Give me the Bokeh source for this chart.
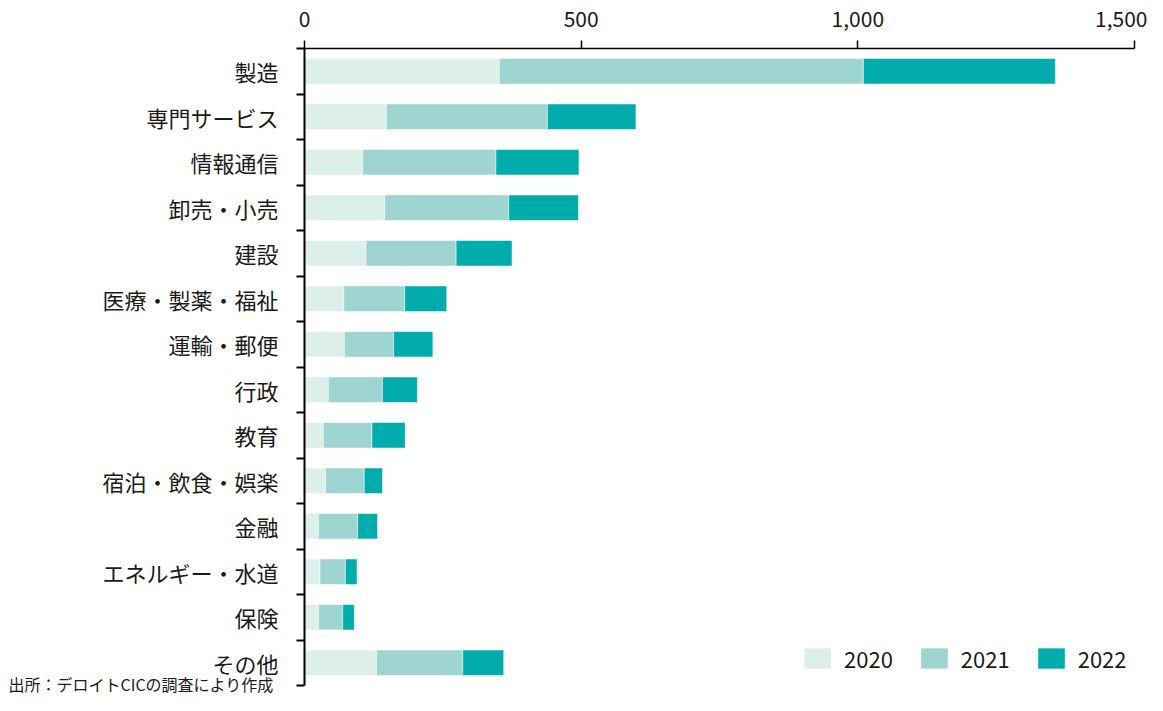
from bokeh.plotting import figure
from bokeh.models import (ColumnDataSource, Range1d, FixedTicker, NumeralTickFormatter,
                          Title, LinearAxis)
from bokeh.embed import file_html
from bokeh.resources import INLINE

categories = ["製造", "専門サービス", "情報通信", "卸売・小売", "建設", "医療・製薬・福祉",
              "運輸・郵便", "行政", "教育", "宿泊・飲食・娯楽", "金融", "エネルギー・水道",
              "保険", "その他"]
v2020 = [352, 148, 105, 145, 111, 71, 72, 43, 34, 38, 25, 28, 25, 130]
v2021 = [658, 291, 241, 224, 163, 110, 89, 98, 88, 70, 71, 46, 44, 156]
v2022 = [347, 160, 150, 126, 101, 76, 71, 63, 60, 33, 36, 21, 21, 74]
years = ["2020", "2021", "2022"]
colors = ["#DDEFEA", "#9FD5D1", "#00ACAC"]
x_ticks = [0, 500, 1000, 1500]
source_note = "出所：デロイトCICの調査により作成"

FONT = "Noto Sans CJK JP"
n = len(categories)
centers = [i + 0.5 for i in range(n)]

src = ColumnDataSource(dict(y=centers, **{"2020": v2020, "2021": v2021, "2022": v2022}))

p = figure(width=1147, height=695, output_backend="svg", toolbar_location=None,
           x_range=Range1d(0, 1500), y_range=Range1d(n, 0),
           x_axis_location=None, y_axis_location=None,
           min_border_left=304, min_border_right=13, min_border_top=48, min_border_bottom=10)
p.outline_line_color = None
p.xgrid.visible = False
p.ygrid.visible = False

p.hbar_stack(years, y="y", height=0.56, source=src, color=colors,
             line_color="white", line_width=0.5,
             legend_label=years)

# top x axis
xa = LinearAxis(ticker=FixedTicker(ticks=x_ticks),
                formatter=NumeralTickFormatter(format="0,0"))
xa.major_label_text_font = FONT
xa.major_label_text_font_size = "21px"
xa.major_label_text_color = "#1a1a1a"
xa.major_tick_out = 8
xa.major_tick_in = 0
xa.minor_tick_out = 0
xa.minor_tick_in = 0
xa.major_label_standoff = 14
xa.axis_line_color = "black"
xa.axis_line_width = 1.5
xa.major_tick_line_width = 1.5
p.add_layout(xa, "above")

# left y axis with labels at centers and ticks at boundaries
ya = LinearAxis(ticker=FixedTicker(ticks=centers, minor_ticks=list(range(n + 1))))
ya.major_label_overrides = {c: lab for c, lab in zip(centers, categories)}
ya.major_label_text_font = FONT
ya.major_label_text_font_size = "22px"
ya.major_label_text_color = "#1a1a1a"
ya.major_tick_out = 0
ya.major_tick_in = 0
ya.minor_tick_out = 8
ya.minor_tick_in = 0
ya.minor_tick_line_width = 2
ya.minor_tick_line_color = "black"
ya.major_label_standoff = 18
ya.axis_line_color = "black"
ya.axis_line_width = 2
p.add_layout(ya, "left")

lg = p.legend[0]
lg.orientation = "horizontal"
lg.location = (496, 11)
lg.glyph_width = 34
lg.glyph_height = 26
lg.label_text_font = FONT
lg.label_text_font_size = "22px"
lg.label_text_color = "#1a1a1a"
lg.label_standoff = 10
lg.spacing = 24
lg.padding = 0
lg.margin = 0
lg.border_line_alpha = 0
lg.background_fill_alpha = 0

note = Title(text=source_note, align="left", vertical_align="top", offset=-296,
             standoff=-28, text_font=FONT, text_font_size="16px",
             text_font_style="normal", text_color="#1a1a1a")
p.add_layout(note, "below")

open("out.html", "w").write(file_html(p, INLINE))
